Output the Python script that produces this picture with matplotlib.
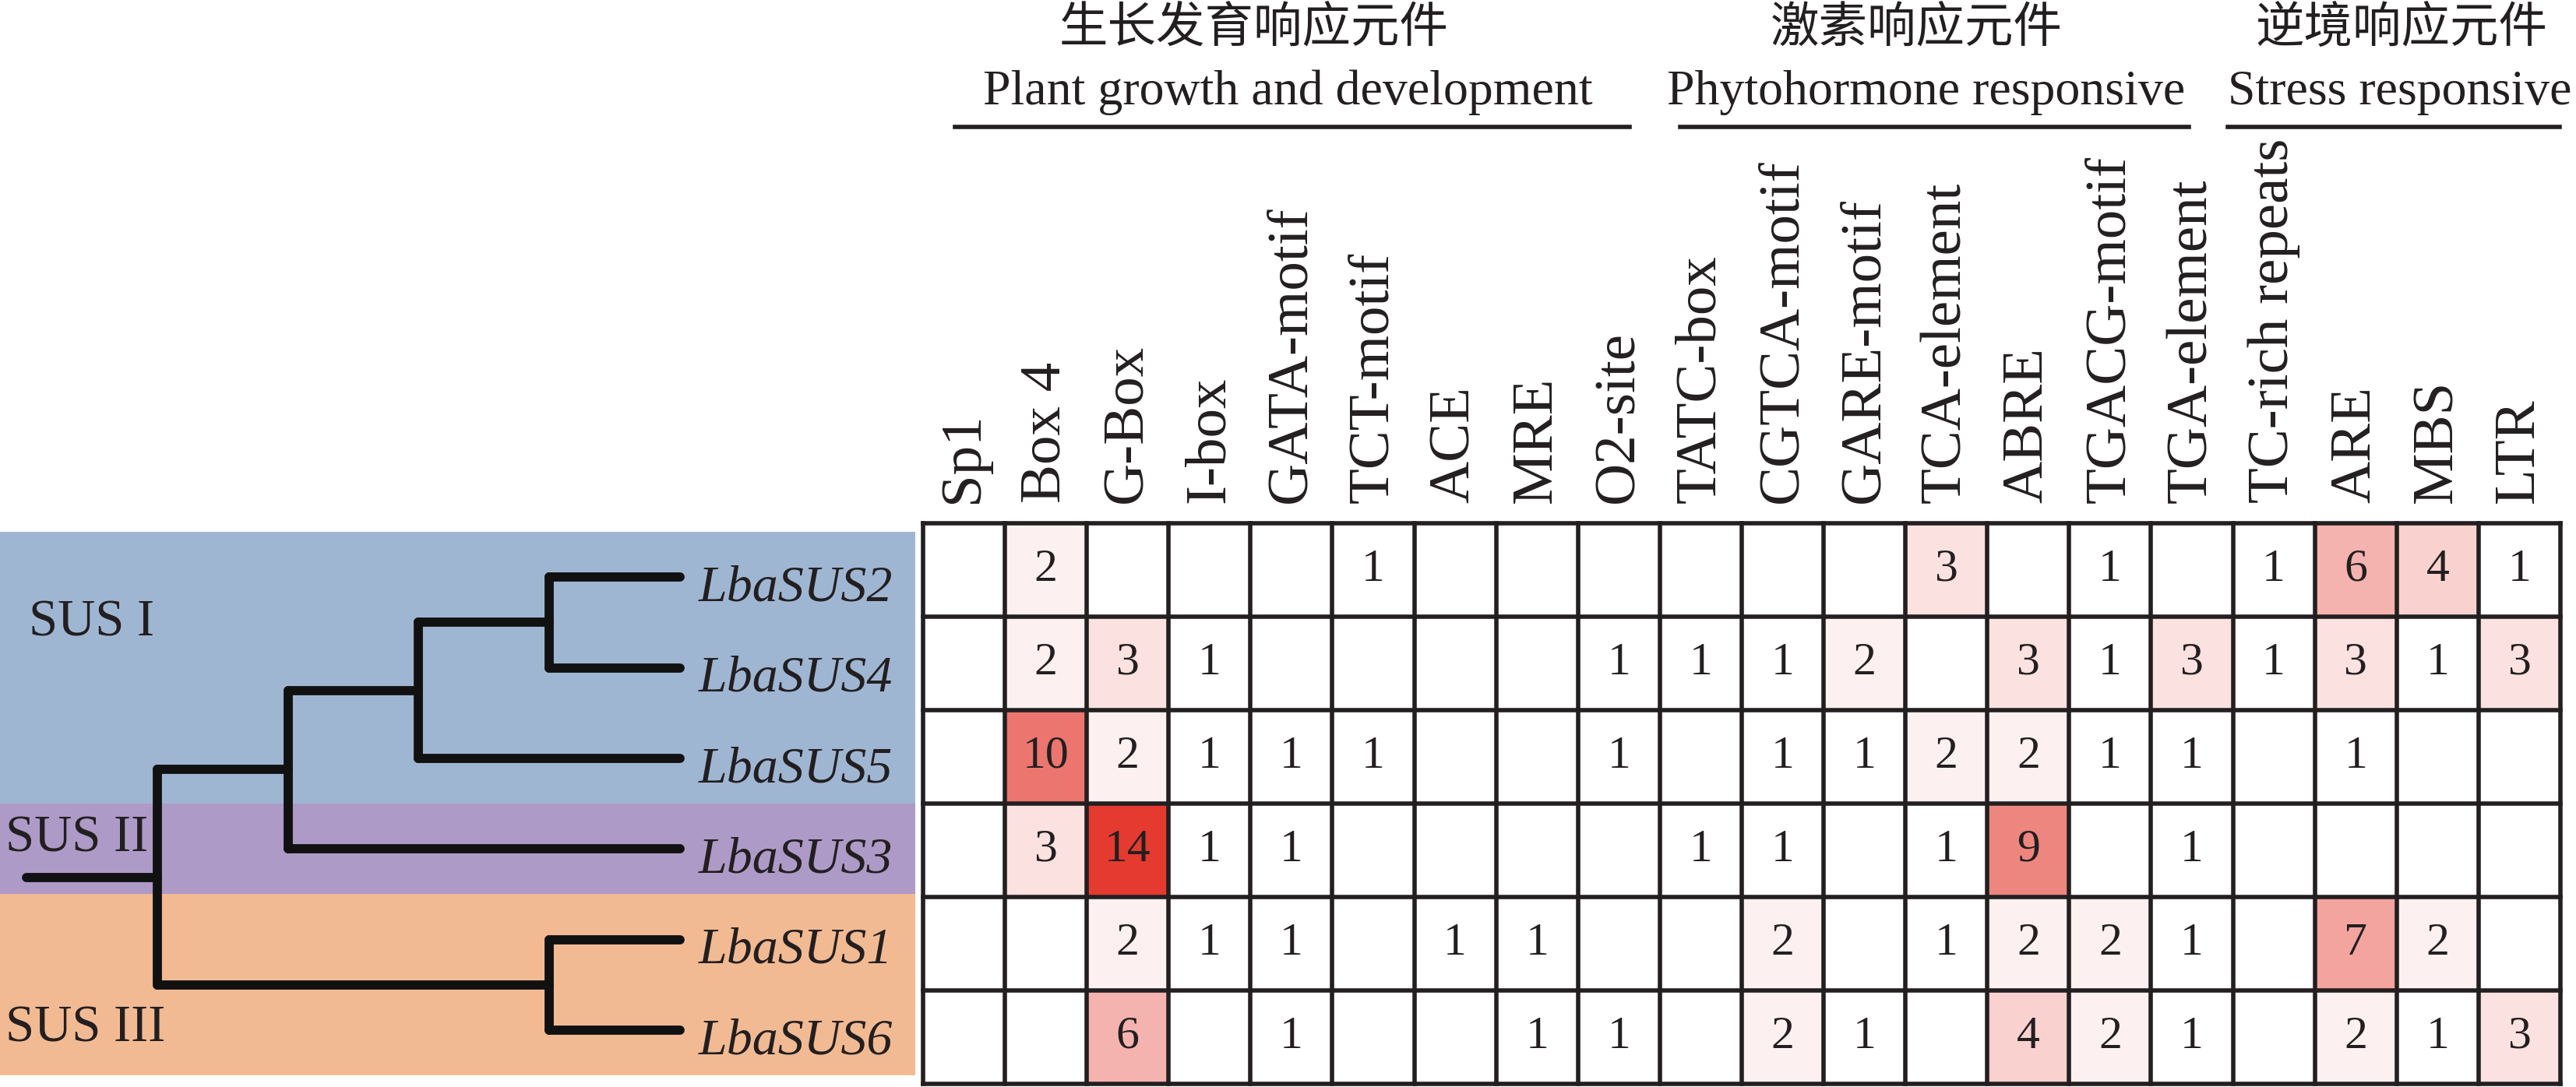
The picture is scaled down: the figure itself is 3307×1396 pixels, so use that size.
import numpy as np
import matplotlib
matplotlib.use('Agg')
import matplotlib.pyplot as plt
from matplotlib.colors import LinearSegmentedColormap

plt.rcParams['font.family'] = ['Liberation Serif', 'DejaVu Serif']

# ---- data ----
genes = ['LbaSUS2', 'LbaSUS4', 'LbaSUS5', 'LbaSUS3', 'LbaSUS1', 'LbaSUS6']
elements = ['Sp1', 'Box 4', 'G-Box', 'I-box', 'GATA-motif', 'TCT-motif', 'ACE',
            'MRE', 'O2-site', 'TATC-box', 'CGTCA-motif', 'GARE-motif',
            'TCA-element', 'ABRE', 'TGACG-motif', 'TGA-element',
            'TC-rich repeats', 'ARE', 'MBS', 'LTR']
counts = np.array([
    [0, 2, 0, 0, 0, 1, 0, 0, 0, 0, 0, 0, 3, 0, 1, 0, 1, 6, 4, 1],
    [0, 2, 3, 1, 0, 0, 0, 0, 1, 1, 1, 2, 0, 3, 1, 3, 1, 3, 1, 3],
    [0, 10, 2, 1, 1, 1, 0, 0, 1, 0, 1, 1, 2, 2, 1, 1, 0, 1, 0, 0],
    [0, 3, 14, 1, 1, 0, 0, 0, 0, 1, 1, 0, 1, 9, 0, 1, 0, 0, 0, 0],
    [0, 0, 2, 1, 1, 0, 1, 1, 0, 0, 2, 0, 1, 2, 2, 1, 0, 7, 2, 0],
    [0, 0, 6, 0, 1, 0, 0, 1, 1, 0, 2, 1, 0, 4, 2, 1, 0, 2, 1, 3],
])
groups_cn = ['生长发育响应元件', '激素响应元件', '逆境响应元件']
groups_en = ['Plant growth and development', 'Phytohormone responsive',
             'Stress responsive']
# tree topology, leaves are indices into genes
tree = ((((0, 1), 2), 3), (4, 5))
clades = [('SUS I', 0, 2), ('SUS II', 3, 3), ('SUS III', 4, 5)]

# ---- layout ----
W, H = 3307, 1396
ink = '#231f20'
clade_colors = ['#9fb6d3', '#ae9ac7', '#f2ba93']
bar_spans = [(0.39, 8.63), (9.25, 15.46), (15.94, 19.99)]
cn_x = [4.04, 12.13, 18.06]
en_x = [4.46, 12.25, 18.04]
clade_text_pos = [(0.02, 0.65), (-0.16, 3.03), (-0.16, 5.13)]

fig = plt.figure(figsize=(W / 100, H / 100), dpi=100)

# table axes covers whole figure, units = columns / rows
ax = fig.add_axes([0, 0, 1, 1])
col_w, row_h, x0, y0 = 105.1, 120.0, 1185, 672
ax.set_xlim(-x0 / col_w, (W - x0) / col_w)
ax.set_ylim((H - y0) / row_h, -y0 / row_h)
ax.axis('off')

cmap = LinearSegmentedColormap.from_list('wr', ['#ffffff', '#e43a30'])
nrow, ncol = counts.shape
masked = np.ma.masked_equal(counts, 0)
ax.pcolormesh(np.arange(ncol + 1), np.arange(nrow + 1), masked,
              cmap=cmap, vmin=1, vmax=14)
for r in range(nrow + 1):
    ax.plot([0, ncol], [r, r], color=ink, lw=4, solid_capstyle='projecting')
for c in range(ncol + 1):
    ax.plot([c, c], [0, nrow], color=ink, lw=4, solid_capstyle='projecting')
for r in range(nrow):
    for c in range(ncol):
        if counts[r, c]:
            ax.text(c + 0.5, r + 0.5, str(counts[r, c]), ha='center',
                    va='center', fontsize=43, color=ink)

for c, name in enumerate(elements):
    ax.text(c + 0.5, -0.22, name, rotation=90, ha='center', va='bottom',
            fontsize=54, color=ink)

for i in range(len(groups_en)):
    a, b = bar_spans[i]
    ax.plot([a, b], [-4.24, -4.24], color=ink, lw=4)
    ax.text(en_x[i], -4.483, groups_en[i], ha='center', va='baseline',
            fontsize=46, color=ink)
    ax.text(cn_x[i], -5.3, groups_cn[i], ha='center', va='center',
            fontsize=45, color=ink, family=['Noto Sans CJK SC', 'DejaVu Sans'])

# ---- tree ----
tx = fig.add_axes([0, (H - 1381) / H, 1175 / W, 698 / H])
tx.set_xlim(-34 / 167.8, (1175 - 34) / 167.8)
tx.set_ylim(len(genes) - 0.5, -0.5)
tx.axis('off')

for (name, first, last), col in zip(clades, clade_colors):
    tx.axhspan(first - 0.5, last + 0.5, color=col, lw=0)
for (name, first, last), (px, py) in zip(clades, clade_text_pos):
    tx.text(px, py, name, ha='left', va='baseline', fontsize=48, color=ink)


def height(node):
    if isinstance(node, int):
        return 0
    return 1 + max(height(ch) for ch in node)


def ypos(node):
    if isinstance(node, int):
        return node
    ys = [ypos(ch) for ch in node]
    return (min(ys) + max(ys)) / 2


leaf_x = 5
line_kw = dict(color='#111111', lw=8.5, solid_capstyle='round')


def draw(node):
    x, y = leaf_x - height(node), ypos(node)
    if isinstance(node, int):
        return x, y
    pts = [draw(ch) for ch in node]
    ys = [p[1] for p in pts]
    tx.plot([x, x], [min(ys), max(ys)], **line_kw)
    for cx, cy in pts:
        tx.plot([x, cx], [cy, cy], **line_kw)
    return x, y


rx, ry = draw(tree)
tx.plot([rx - 1, rx], [ry, ry], **line_kw)

for i, g in enumerate(genes):
    tx.text(leaf_x + 0.14, i + 0.26, g, ha='left', va='baseline',
            fontsize=47.5, style='italic', color=ink)

fig.savefig('out.png', dpi=100)
